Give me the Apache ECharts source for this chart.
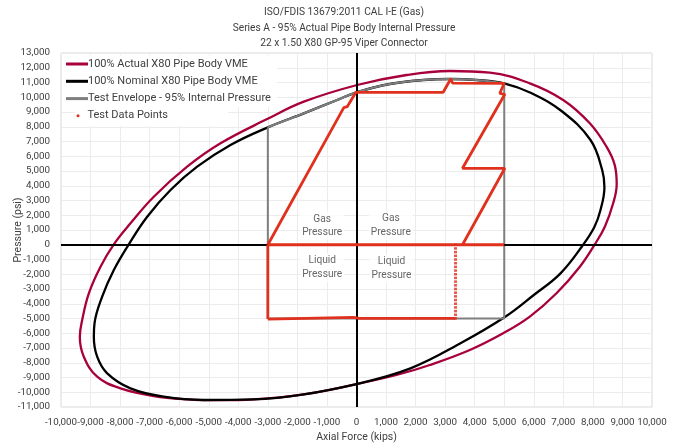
<!DOCTYPE html>
<html><head><meta charset="utf-8">
<script src="https://cdn.jsdelivr.net/npm/echarts@6/dist/echarts.min.js"></script>
<style>html,body{margin:0;padding:0;background:#fff}#c{width:678px;height:444px}</style>
</head><body><div id="c"></div>
<script>
const titleLines = ['ISO/FDIS 13679:2011 CAL I-E (Gas)', 'Series A - 95% Actual Pipe Body Internal Pressure', '22 x 1.50 X80 GP-95 Viper Connector'];
const xAxisName = 'Axial Force (kips)';
const yAxisName = 'Pressure (psi)';
const seriesNames = ['100% Actual X80 Pipe Body VME', '100% Nominal X80 Pipe Body VME', 'Test Envelope - 95% Internal Pressure', 'Test Data Points'];

const actualVME = [[0,-9441],[1354,-8831],[2482,-8153],[3835,-7136],[4963,-6004],[5866,-4874],[6768,-3292],[7558,-1488],[8065,30],[8404,1224],[8686,2810],[8805,4100],[8740,5400],[8460,6650],[7896,8233],[6994,9814],[5866,10945],[4512,11667],[3158,11780],[1692,11508],[24,10830],[-1783,9700],[-3022,8520],[-4602,6878],[-5731,5292],[-6860,3258],[-7648,1454],[-8212,30],[-8663,-1488],[-9058,-3292],[-9283,-5102],[-9363,-6234],[-9228,-7590],[-8776,-8946],[-7986,-9734],[-6860,-10254],[-5731,-10480],[-4700,-10540],[-3475,-10480],[-1783,-10141],[0,-9441]];

const nominalVME = [[0,-9441],[1827,-8380],[3519,-6681],[5008,-4920],[6000,-3407],[6904,-1937],[7670,0],[8050,1200],[8257,2356],[8390,3900],[8314,5068],[7919,7100],[6950,9050],[5930,10267],[4997,10945],[4061,11169],[3158,11237],[2256,11169],[1128,10898],[0,10335],[-654,9814],[-1783,8910],[-3000,7960],[-4264,6763],[-5392,5292],[-6294,3712],[-7083,1902],[-7705,30],[-8212,-1712],[-8607,-3522],[-8866,-5325],[-8889,-6234],[-8776,-7590],[-8437,-8715],[-7648,-9734],[-6520,-10300],[-5167,-10525],[-3475,-10480],[-1783,-10141],[0,-9441]];

const envelopeArc = [[-3000,7960],[-1783,8910],[-654,9814],[0,10335],[1128,10898],[2256,11169],[3158,11237],[4061,11169],[4997,10945]];
const envelopeSides = [[-3000,7960],[-3000,-5000],[5000,-5000],[5000,10945]];

const testPath = [[-3000,-5040],[-3000,0],null,[-3000,0],[5000,0],null,
  [-3000,0],[-430,9300],[-315,9360],[-20,10335],[2933,10335],[3192,11250],[3250,10960],[4997,10945],[4850,10267],[5020,10200],[3587,5183],[5020,5183],[3587,0],null,
  [-3000,-5040],[-100,-4930],[100,-4990],[3350,-4990]];

const testDots = [[3350,0],[3350,-250],[3350,-500],[3350,-750],[3350,-1000],[3350,-1250],[3350,-1500],[3350,-1750],[3350,-2000],[3350,-2250],[3350,-2500],[3350,-2750],[3350,-3000],[3350,-3250],[3350,-3500],[3350,-3750],[3350,-4000],[3350,-4250],[3350,-4500],[3350,-4750],[3350,-4990]];

const regionLabels = [[-1160,1285,'Gas\nPressure'],[1162,1305,'Gas\nPressure'],[-1160,-1555,'Liquid\nPressure'],[1184,-1610,'Liquid\nPressure']];

const FONT = "Roboto, 'Liberation Sans', sans-serif";
const TXT = '#404040';
const fmt = v => (v < 0 ? '-' : '') + Math.abs(v).toString().replace(/\B(?=(\d{3})+(?!\d))/g, ',');

const chart = echarts.init(document.getElementById('c'), null, {renderer: 'canvas'});
chart.setOption({
  animation: false,
  backgroundColor: '#fff',
  textStyle: {fontFamily: FONT},
  title: {
    text: titleLines.join('\n'), left: 339, top: 0, textAlign: 'center',
    textStyle: {fontFamily: FONT, fontSize: 10.2, fontWeight: 'normal', color: TXT, lineHeight: 15.5}
  },
  grid: {left: 61, right: 26, top: 53, bottom: 37, show: true, borderColor: '#d9d9d9', borderWidth: 1,
    containLabel: false, outerBoundsMode: 'none'},
  legend: [{
    data: seriesNames.slice(0, 3).map(n => ({name: n, icon: 'rect'})), orient: 'vertical', left: 62, top: 55.5,
    itemWidth: 22, itemHeight: 3, itemGap: 4.3, backgroundColor: '#fff', padding: [2, 6, 2, 4],
    textStyle: {fontFamily: FONT, fontSize: 11, lineHeight: 13, color: TXT, padding: [0, 0, 0, -5]}
  }, {
    data: [{name: seriesNames[3], icon: 'circle'}], orient: 'vertical', left: 74.5, top: 107.2,
    itemWidth: 3, itemHeight: 3, backgroundColor: '#fff', padding: [2, 60, 4, 2],
    textStyle: {fontFamily: FONT, fontSize: 11, lineHeight: 13, color: TXT, padding: [0, 0, 0, 3]}
  }],
  xAxis: {
    type: 'value', min: -10000, max: 10000, interval: 1000,
    name: xAxisName, nameLocation: 'middle', nameGap: 25, nameMoveOverlap: false,
    nameTextStyle: {fontFamily: FONT, fontSize: 10.5, color: TXT},
    axisLine: {show: false}, axisTick: {show: false},
    axisLabel: {formatter: fmt, fontFamily: FONT, fontSize: 9.8, color: TXT, margin: 11,
      showMinLabel: true, showMaxLabel: true, hideOverlap: false},
    splitLine: {show: true, lineStyle: {color: '#ececec', width: 1}}
  },
  yAxis: {
    type: 'value', min: -11000, max: 13000, interval: 1000,
    name: yAxisName, nameLocation: 'middle', nameGap: 37, nameRotate: 90, nameMoveOverlap: false,
    nameTextStyle: {fontFamily: FONT, fontSize: 10.5, color: TXT},
    axisLine: {show: false}, axisTick: {show: false},
    axisLabel: {formatter: fmt, fontFamily: FONT, fontSize: 9.8, color: TXT, margin: 11,
      showMinLabel: true, showMaxLabel: true, hideOverlap: false},
    splitLine: {show: true, lineStyle: {color: '#ececec', width: 1}}
  },
  series: [
    {
      name: '_axes', type: 'line', data: [], silent: true,
      markLine: {silent: true, symbol: 'none', label: {show: false}, animation: false,
        lineStyle: {color: '#000', width: 2, type: 'solid'},
        data: [{xAxis: 0}, {yAxis: 0}]}
    },
    {name: seriesNames[0], type: 'line', data: actualVME, smooth: 0.4, symbol: 'none',
      lineStyle: {color: '#a8003c', width: 2.3}, itemStyle: {color: '#a8003c'}, z: 3},
    {name: seriesNames[1], type: 'line', data: nominalVME, smooth: 0.4, symbol: 'none',
      lineStyle: {color: '#000', width: 2.3}, itemStyle: {color: '#000'}, z: 3},
    {name: seriesNames[2], type: 'line', data: envelopeArc, smooth: 0.4, symbol: 'none',
      lineStyle: {color: '#7f7f7f', width: 2.2}, itemStyle: {color: '#7f7f7f'}, z: 4},
    {name: seriesNames[2], type: 'line', data: envelopeSides, smooth: false, symbol: 'none',
      lineStyle: {color: '#7f7f7f', width: 2}, itemStyle: {color: '#7f7f7f'}, z: 4},
    {name: seriesNames[3], type: 'line', data: testPath, connectNulls: false, symbol: 'none',
      lineStyle: {color: '#e0301e', width: 2.8}, itemStyle: {color: '#e0301e'}, z: 5},
    {name: seriesNames[3], type: 'scatter', data: testDots, symbol: 'rect', symbolSize: [3, 2.5],
      itemStyle: {color: '#e0301e'}, z: 5},
    {name: '_labels', type: 'scatter', data: regionLabels, symbolSize: 1, silent: true,
      itemStyle: {color: 'rgba(0,0,0,0)'}, z: 6,
      label: {show: true, position: 'inside', formatter: p => p.value[2], fontFamily: FONT,
        fontSize: 10.2, lineHeight: 13.5, color: TXT, backgroundColor: '#fff', padding: [1, 2]}}
  ]
});
</script></body></html>
